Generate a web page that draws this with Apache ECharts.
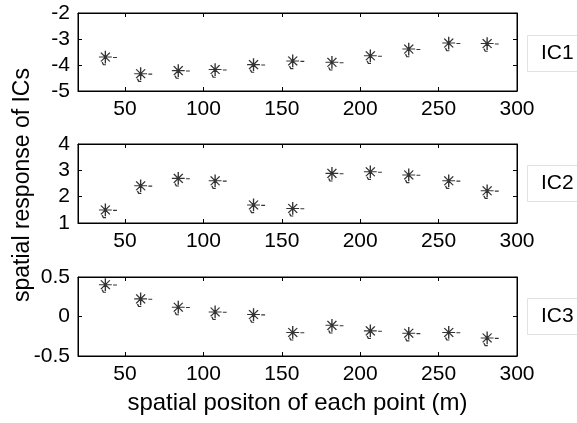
<!DOCTYPE html>
<html>
<head>
<meta charset="utf-8">
<script src="https://cdn.jsdelivr.net/npm/echarts@6/dist/echarts.min.js"></script>
<style>html,body{margin:0;padding:0;background:#fff}#c{width:577px;height:423px}</style>
</head>
<body>
<div id="c"></div>
<script>
// data
const xPos = [37.5, 60, 84, 107.5, 132, 157, 182, 206.5, 231, 256.5, 281];
const ic1 = [-3.72, -4.36, -4.24, -4.2, -4.01, -3.87, -3.92, -3.67, -3.41, -3.18, -3.2];
const ic2 = [1.47, 2.39, 2.67, 2.58, 1.66, 1.53, 2.86, 2.92, 2.8, 2.58, 2.2];
const ic3 = [0.395, 0.215, 0.11, 0.05, 0.017, -0.21, -0.12, -0.19, -0.22, -0.21, -0.28];
const xTicks = [50, 100, 150, 200, 250, 300];
const panelNames = ['IC1', 'IC2', 'IC3'];
const yRanges = [[-5, -2, 1], [1, 4, 1], [-0.5, 0.5, 0.5]];
const xLabel = 'spatial positon of each point (m)';
const yLabel = 'spatial response of ICs';

const FONT = 'Liberation Sans, Arial, Helvetica, sans-serif';
const chart = echarts.init(document.getElementById('c'), null, {renderer: 'canvas'});
const grids = [
  {left: 78, right: 60, top: 13, height: 78},
  {left: 78, right: 60, top: 144, height: 79},
  {left: 78, right: 60, top: 277, height: 79}
];
const allSeries = [ic1, ic2, ic3];
const starPath = 'path://M0 5 L10 5 M5 0 L5 10 M1.5 1.5 L8.5 8.5 M8.5 1.5 L1.5 8.5 M11 5.3 L14 5.3 M2.5 9 L3.5 11 L5.5 11';

const xAxis = [], yAxis = [], series = [], titles = [];
grids.forEach((g, i) => {
  g.show = true; g.borderColor = '#000'; g.borderWidth = 1;
  const common = {
    type: 'value', gridIndex: i, min: 20, max: 300,
    splitLine: {show: false},
    axisLine: {show: true, onZero: false, lineStyle: {color: '#000', width: 1}},
    axisTick: {show: true, inside: true, length: 4, lineStyle: {color: '#000'}, customValues: xTicks},
  };
  xAxis.push(Object.assign({}, common, {
    position: 'bottom',
    axisLabel: {show: true, customValues: xTicks, color: '#000', fontSize: 21, fontFamily: FONT, margin: 8},
    name: i === 2 ? xLabel : '', nameLocation: 'middle', nameGap: 35,
    nameTextStyle: {color: '#000', fontSize: 24, fontFamily: FONT}
  }));
  xAxis.push(Object.assign({}, common, {position: 'top', axisLabel: {show: false}}));
  const r = yRanges[i];
  const ycommon = {
    type: 'value', gridIndex: i, min: r[0], max: r[1], interval: r[2],
    splitLine: {show: false},
    axisLine: {show: true, onZero: false, lineStyle: {color: '#000', width: 1}},
    axisTick: {show: true, inside: true, length: 4, lineStyle: {color: '#000'}}
  };
  yAxis.push(Object.assign({}, ycommon, {
    position: 'left',
    axisLabel: {show: true, color: '#000', fontSize: 21, fontFamily: FONT, margin: 8}
  }));
  yAxis.push(Object.assign({}, ycommon, {position: 'right', axisLabel: {show: false}}));
  series.push({
    type: 'scatter', xAxisIndex: 2 * i, yAxisIndex: 2 * i,
    data: xPos.map((x, k) => [x, allSeries[i][k]]),
    symbol: starPath, symbolSize: [18, 14], symbolOffset: [2.5, 0],
    itemStyle: {color: 'rgba(0,0,0,0)', borderColor: '#000', borderWidth: 1.2},
    emphasis: {disabled: true}, animation: false
  });
  titles.push({
    text: panelNames[i], left: 527, top: [35, 165, 298][i],
    padding: [8, 12, 8, 14],
    borderColor: '#e2e2e2', borderWidth: 1, backgroundColor: '#fff',
    textStyle: {color: '#000', fontSize: 21, fontWeight: 'normal', fontFamily: FONT}
  });
});

chart.setOption({
  animation: false,
  backgroundColor: '#fff',
  title: titles,
  grid: grids,
  xAxis: xAxis,
  yAxis: yAxis,
  series: series,
  graphic: [{
    type: 'text', x: 23, y: 185, rotation: Math.PI / 2,
    style: {text: yLabel, fill: '#000', font: '23px ' + FONT, align: 'center', verticalAlign: 'middle'}
  }]
});
</script>
</body>
</html>
